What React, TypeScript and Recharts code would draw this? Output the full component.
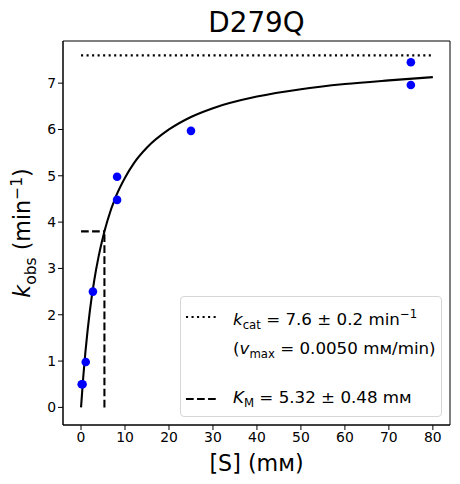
import React from "react";
import { ComposedChart, Line, Scatter, XAxis, YAxis, ReferenceArea } from "recharts";

// fitted Michaelis-Menten curve
const curveS = [0, 0.5, 1, 1.5, 2, 3, 4, 5, 6, 8, 10, 12, 15, 20, 25, 30, 40, 50, 60, 70, 80];
const curveK = [0, 0.65, 1.2, 1.67, 2.08, 2.74, 3.26, 3.68, 4.03, 4.57, 4.96, 5.27, 5.61, 6.0, 6.27, 6.46, 6.71, 6.87, 6.98, 7.06, 7.13];

// observed rates
const obsS = [0.15, 0.35, 1.07, 2.7, 8.2, 8.2, 25, 75, 75];
const obsK = [0.5, 0.5, 0.98, 2.5, 4.98, 4.48, 5.97, 7.45, 6.96];

// guide lines
const kcatS = [0, 80];
const kcatK = [7.6, 7.6];
const kmHorizS = [0, 5.32];
const kmHorizK = [3.8, 3.8];
const kmVertS = [5.32, 5.32];
const kmVertK = [0, 3.8];

const xTicks = [0, 10, 20, 30, 40, 50, 60, 70, 80];
const yTicks = [0, 1, 2, 3, 4, 5, 6, 7];

const zip = (s: number[], k: number[]) => s.map((v, i) => ({ s: v, k: k[i] }));

const FONT = "'DejaVu Sans', sans-serif";
const X_DOMAIN: [number, number] = [-4.1, 83.9];
const Y_DOMAIN: [number, number] = [-0.38, 7.91];

const Dot = (props: any) => (
  <circle cx={props.cx} cy={props.cy} r={4.3} fill="#0000ff" />
);

export default function App() {
  const tick = { fontSize: 13.9, fill: "#000", fontFamily: FONT };
  return (
    <div style={{ position: "relative", width: 460, height: 484, fontFamily: FONT }}>
      <style>{`body{margin:0}`}</style>
      <ComposedChart
        width={460}
        height={484}
        margin={{ top: 41, right: 10, bottom: 29, left: 8 }}
      >
        <XAxis
          dataKey="s"
          type="number"
          domain={X_DOMAIN}
          ticks={xTicks}
          allowDataOverflow
          height={30}
          tick={tick}
          tickSize={5}
          stroke="#000"
          tickLine={{ stroke: "#000" }}
        />
        <YAxis
          dataKey="k"
          type="number"
          domain={Y_DOMAIN}
          ticks={yTicks}
          allowDataOverflow
          width={55}
          tick={tick}
          tickSize={5}
          stroke="#000"
          tickLine={{ stroke: "#000" }}
        />
        {/* plot frame (top and right spines) */}
        <ReferenceArea
          x1={X_DOMAIN[0]}
          x2={X_DOMAIN[1]}
          y1={Y_DOMAIN[0]}
          y2={Y_DOMAIN[1]}
          fill="none"
          fillOpacity={0}
          stroke="#000"
          strokeWidth={1}
          ifOverflow="visible"
        />
        <Line
          data={zip(kcatS, kcatK)}
          dataKey="k"
          stroke="#000"
          strokeWidth={2.08}
          strokeDasharray="2.08 3.44"
          dot={false}
          activeDot={false}
          isAnimationActive={false}
        />
        <Line
          data={zip(kmHorizS, kmHorizK)}
          dataKey="k"
          stroke="#000"
          strokeWidth={2.08}
          strokeDasharray="7.7 3.33"
          dot={false}
          activeDot={false}
          isAnimationActive={false}
        />
        <Line
          data={zip(kmVertS, kmVertK)}
          dataKey="k"
          stroke="#000"
          strokeWidth={2.08}
          strokeDasharray="7.7 3.33"
          dot={false}
          activeDot={false}
          isAnimationActive={false}
        />
        <Line
          data={zip(curveS, curveK)}
          dataKey="k"
          type="monotone"
          stroke="#000"
          strokeWidth={2.08}
          dot={false}
          activeDot={false}
          isAnimationActive={false}
        />
        <Scatter
          data={zip(obsS, obsK)}
          shape={Dot}
          isAnimationActive={false}
        />
      </ComposedChart>

      {/* title */}
      <div
        style={{
          position: "absolute",
          left: 63,
          width: 387,
          top: 7,
          textAlign: "center",
          fontSize: 27.8,
          lineHeight: "32px",
        }}
      >
        D279Q
      </div>

      {/* x label */}
      <div
        style={{
          position: "absolute",
          left: 63,
          width: 387,
          top: 450,
          textAlign: "center",
          fontSize: 22.2,
          lineHeight: "26px",
        }}
      >
        [S] (mᴍ)
      </div>

      {/* y label */}
      <div
        style={{
          position: "absolute",
          left: 24,
          top: 233,
          transform: "translate(-50%, -50%) rotate(-90deg)",
          whiteSpace: "nowrap",
          fontSize: 22.2,
          lineHeight: "26px",
        }}
      >
        <i>k</i>
        <sub style={{ fontSize: 15.5 }}>obs</sub> (min
        <sup style={{ fontSize: 15.5 }}>−1</sup>)
      </div>

      {/* legend */}
      <div
        style={{
          position: "absolute",
          left: 180,
          top: 296,
          width: 260,
          height: 119,
          border: "1px solid #d6d6d6",
          borderRadius: 4,
          background: "rgba(255,255,255,0.8)",
          fontSize: 16.7,
        }}
      >
        <svg style={{ position: "absolute", left: 4, top: 17 }} width={32} height={6}>
          <line x1={1} y1={3} x2={31} y2={3} stroke="#000" strokeWidth={2.08} strokeDasharray="2.08 3.44" />
        </svg>
        <div style={{ position: "absolute", left: 52, top: 6, whiteSpace: "nowrap", lineHeight: "22px" }}>
          <i>k</i>
          <sub style={{ fontSize: 11.7 }}>cat</sub> = 7.6 ± 0.2 min
          <sup style={{ fontSize: 11.7 }}>−1</sup>
        </div>
        <div style={{ position: "absolute", left: 52, top: 40, whiteSpace: "nowrap", lineHeight: "22px" }}>
          (<i>v</i>
          <sub style={{ fontSize: 11.7 }}>max</sub> = 0.0050 mᴍ/min)
        </div>
        <svg style={{ position: "absolute", left: 4, top: 99 }} width={32} height={6}>
          <line x1={1} y1={3} x2={31} y2={3} stroke="#000" strokeWidth={2.08} strokeDasharray="7.7 3.33" />
        </svg>
        <div style={{ position: "absolute", left: 52, top: 89, whiteSpace: "nowrap", lineHeight: "22px" }}>
          <i>K</i>
          <sub style={{ fontSize: 11.7 }}>M</sub> = 5.32 ± 0.48 mᴍ
        </div>
      </div>
    </div>
  );
}
